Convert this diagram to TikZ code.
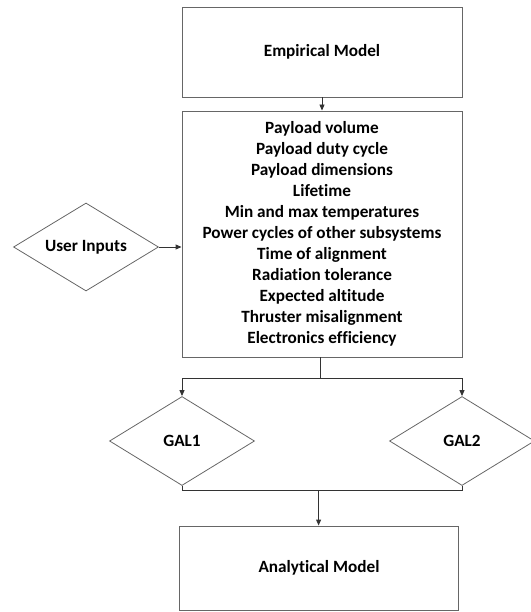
\documentclass[tikz,border=0pt]{standalone}
\usepackage{fontspec}
\setmainfont{Carlito}[Ligatures=NoCommon]
\usetikzlibrary{shapes.geometric,arrows.meta}
\begin{document}
\begin{tikzpicture}[x=1pt,y=-1pt,
  box/.style={draw=black!60,line width=0.9pt,rectangle,minimum width=280pt,inner sep=0pt,align=center,font=\bfseries\fontsize{17.2}{21}\selectfont},
  dia/.style={draw=black!60,line width=0.8pt,diamond,aspect=1.65,minimum width=145pt,minimum height=88pt,inner sep=0pt,font=\bfseries\fontsize{17.2}{21}\selectfont},
  conn/.style={draw=black!80,line width=0.9pt},
  arr/.style={conn,-{Triangle[length=6pt,width=5pt]}}]
\useasboundingbox (0,0) rectangle (530,612);
\node[box,minimum height=90pt] (emp) at (322,52) {Empirical Model};
\node[box,minimum height=246pt] (par) at (322,234) {Payload volume\\Payload duty cycle\\Payload dimensions\\Lifetime\\Min and max temperatures\\Power cycles of other subsystems\\Time of alignment\\Radiation tolerance\\Expected altitude\\Thruster misalignment\\Electronics efficiency};
\node[dia] (ui) at (86,247) {User Inputs};
\node[dia,minimum height=89pt] (g1) at (182,441) {GAL1};
\node[dia,minimum height=89pt] (g2) at (462,441) {GAL2};
\node[box,minimum width=279.5pt,minimum height=84pt] (ana) at (319,568) {Analytical Model};
\coordinate (split) at (320,378);
\coordinate (join) at (318.6,490);
\draw[arr] (emp.south) -- (par.north);
\draw[arr] (ui.east) -- (ui.east -| par.west);
\draw[conn] (par.south -| split) -- (split);
\draw[arr] (split) -| (g1.north);
\draw[arr] (split) -| (g2.north);
\draw[conn] (g1.south) -- (g1.south |- join) -- (g2.south |- join) -- (g2.south);
\draw[arr] (join) -- (ana.north -| join);
\end{tikzpicture}
\end{document}
